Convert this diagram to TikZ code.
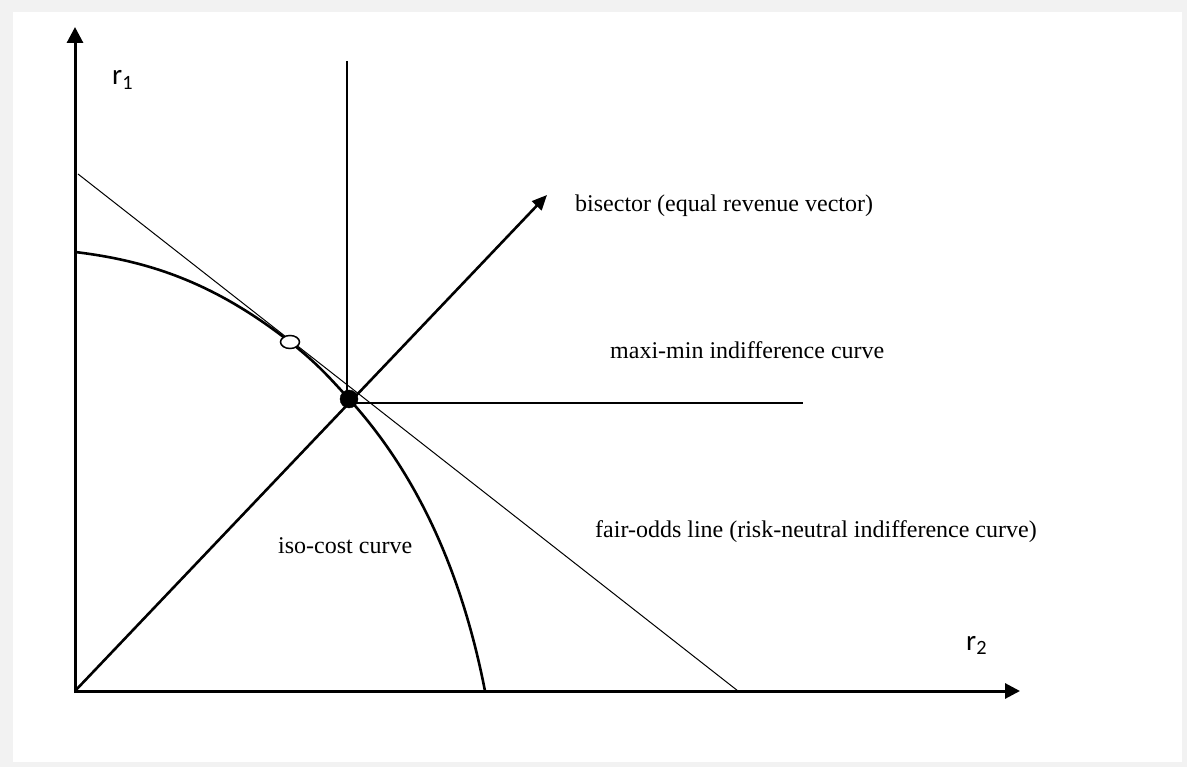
\documentclass[tikz,border=0pt]{standalone}
\usepackage{fontspec}
\setmainfont{Liberation Serif}
\newfontfamily\varfont{Carlito}
\usetikzlibrary{arrows.meta,shapes.geometric}

\begin{document}
\begin{tikzpicture}[x=1pt,y=-1pt,
  axisline/.style={line width=3pt,-{Triangle[length=16pt,width=16pt]}},
  thickline/.style={line width=2.6pt},
  thinline/.style={line width=1pt},
  lbl/.style={anchor=base west,inner sep=0pt,font=\fontsize{24}{28}\selectfont},
  varlbl/.style={anchor=base west,inner sep=0pt,font=\varfont\fontsize{29}{34}\selectfont},
  dotfull/.style={circle,fill=black,draw=black,minimum size=18pt,inner sep=0pt},
  dothollow/.style={ellipse,draw=black,fill=white,line width=1.5pt,minimum width=19pt,minimum height=13pt,inner sep=0pt}]

% page frame
\useasboundingbox (0,0) rectangle (1187,767);
\fill[black!5] (0,0) rectangle (1187,767);
\fill[white] (13,12) rectangle (1182,762);

% key points
\coordinate (O) at (75,691);
\coordinate (Ybot) at (75,693);
\coordinate (Ytip) at (75,27);
\coordinate (Xtip) at (1020,691);
\coordinate (Fa) at (78,174);
\coordinate (Fb) at (738,691);
\coordinate (Ca) at (75,252);
\coordinate (Cb) at (485,691);
\coordinate (Tpt) at (290,342);
\coordinate (Ept) at (349,399);
\coordinate (Vtop) at (347,61);
\coordinate (Hend) at (803,403);
\coordinate (Btip) at (547,195);

% fair-odds line
\draw[thinline] (Fa) -- (Fb);

% iso-cost curve
\draw[thickline] (Ca) .. controls (150,261) and (215,283.3) .. (Tpt)
  .. controls (317,363.1) and (330.8,379) .. (Ept)
  .. controls (423,480.4) and (463.9,583.1) .. (Cb);

% bisector
\draw[thickline,-{Triangle[length=15pt,width=13pt]}] (O) -- (Btip);

% maxi-min indifference curve
\draw[thickline] (Vtop) -- (Vtop |- Ept);
\draw[thickline] (349,403) -- (Hend);

% axes
\draw[axisline] (Ybot) -- (Ytip);
\draw[line width=3pt,-{Triangle[length=15pt,width=15pt]}] (O) -- (Xtip);

% points
\node[dothollow] (T) at (Tpt) {};
\node[dotfull] (E) at (Ept) {};

% labels
\node[lbl] (lbis) at (575,212) {bisector (equal revenue vector)};
\node[lbl] (lmax) at (610,359) {maxi-min indifference curve};
\node[lbl] (lfair) at (595,537) {fair-odds line (risk-neutral indifference curve)};
\node[lbl] (liso) at (278,553) {iso-cost curve};
\node[varlbl] (r1) at (112,85) {r\textsubscript{1}};
\node[varlbl] (r2) at (966,650) {r\textsubscript{2}};
\end{tikzpicture}
\end{document}
